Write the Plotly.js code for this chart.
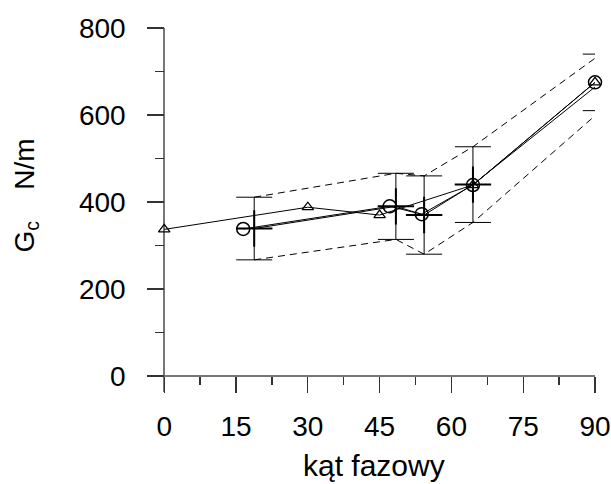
<!DOCTYPE html>
<html>
<head>
<meta charset="utf-8">
<script src="https://cdn.plot.ly/plotly-3.0.1.min.js"></script>
<style>html,body{margin:0;padding:0;background:#fff;}#chart{width:611px;height:484px;}</style>
</head>
<body>
<div id="chart"></div>
<script>
// Triangle series (solid line, open triangles)
const triX = [0, 30, 45, 64.5, 90];
const triY = [337, 388, 370, 439, 675];
// Circle series (solid line, open circles)
const circX = [16.5, 47.1, 53.8, 64.5, 90];
const circY = [338, 390, 372, 439, 675];
// Mean series with error bars (cross markers)
const meanX = [18.8, 48.4, 54.3, 64.5, 91.2];
const meanY = [339, 390, 370, 440, 675];
const meanErr = [72, 76, 90, 87, 65];
// Axis ticks
const xTicks = [0, 15, 30, 45, 60, 75, 90];
const yTicks = [0, 200, 400, 600, 800];

const upperY = meanY.map((v, i) => v + meanErr[i]);
const lowerY = meanY.map((v, i) => v - meanErr[i]);

const xMin = -3.6, xMax = 90, yMin = -36.8, yMax = 800;
const black = '#000';
const font = 'Liberation Sans, Arial, sans-serif';
const fs = 28;

const traces = [
  {x: meanX, y: upperY, mode: 'lines', line: {color: black, width: 1, dash: '7px,5px'}, hoverinfo: 'skip'},
  {x: meanX, y: lowerY, mode: 'lines', line: {color: black, width: 1, dash: '7px,5px'}, hoverinfo: 'skip'},
  {x: triX, y: triY, mode: 'lines+markers', cliponaxis: false,
   line: {color: black, width: 1},
   marker: {symbol: 'triangle-up-open', size: 10, color: black, line: {color: black, width: 1.3}}},
  {x: circX, y: circY, mode: 'lines+markers', cliponaxis: false,
   line: {color: black, width: 1},
   marker: {symbol: 'circle-open', size: 13, color: black, line: {color: black, width: 1.5}}},
  {x: meanX, y: meanY, mode: 'lines+markers', cliponaxis: false,
   line: {color: black, width: 1},
   marker: {symbol: 'cross-thin', size: 26, color: black, line: {color: black, width: 2}},
   error_y: {type: 'data', array: meanErr, visible: true, color: black, thickness: 1, width: 18}}
];

const layout = {
  width: 611, height: 484,
  margin: {l: 147, r: 16, t: 28, b: 92, pad: 0},
  paper_bgcolor: '#fff', plot_bgcolor: '#fff',
  showlegend: false,
  font: {family: font, size: fs, color: '#000'},
  xaxis: {
    range: [xMin, xMax], anchor: 'free', position: (0 - yMin) / (yMax - yMin),
    showgrid: false, showline: false,
    zeroline: true, zerolinecolor: '#777', zerolinewidth: 1.5,
    tickmode: 'array', tickvals: xTicks, ticktext: xTicks.map(String),
    ticks: 'outside', ticklen: 16, tickwidth: 1.3, tickcolor: '#333',
    ticklabelstandoff: 9,
    minor: {dtick: 7.5, tick0: 0, ticks: 'outside', ticklen: 8, tickwidth: 1.3, tickcolor: '#333'},
    tickfont: {family: font, size: fs, color: '#000'}
  },
  yaxis: {
    range: [yMin, yMax], anchor: 'free', position: (0 - xMin) / (xMax - xMin),
    showgrid: false, showline: false,
    zeroline: true, zerolinecolor: '#777', zerolinewidth: 1.5,
    tickmode: 'array', tickvals: yTicks, ticktext: yTicks.map(String),
    ticks: 'outside', ticklen: 17, tickwidth: 1.3, tickcolor: '#333',
    ticklabelstandoff: 16,
    minor: {dtick: 100, tick0: 0, ticks: 'outside', ticklen: 9, tickwidth: 1.3, tickcolor: '#333'},
    tickfont: {family: font, size: fs, color: '#000'}
  },
  annotations: [
    {text: 'kąt fazowy', xref: 'paper', yref: 'paper', x: 0.507, y: -0.203, yanchor: 'middle', xanchor: 'center',
     showarrow: false, font: {family: font, size: 30, color: '#000'}},
    {text: 'G<sub>c</sub>\u00a0\u00a0\u00a0\u00a0N/m', xref: 'paper', yref: 'paper', x: -0.27, y: 0.54, textangle: -90,
     xanchor: 'center', yanchor: 'middle', showarrow: false, font: {family: font, size: fs, color: '#000'}}
  ]
};

Plotly.newPlot('chart', traces, layout, {displayModeBar: false, staticPlot: true});
</script>
</body>
</html>
